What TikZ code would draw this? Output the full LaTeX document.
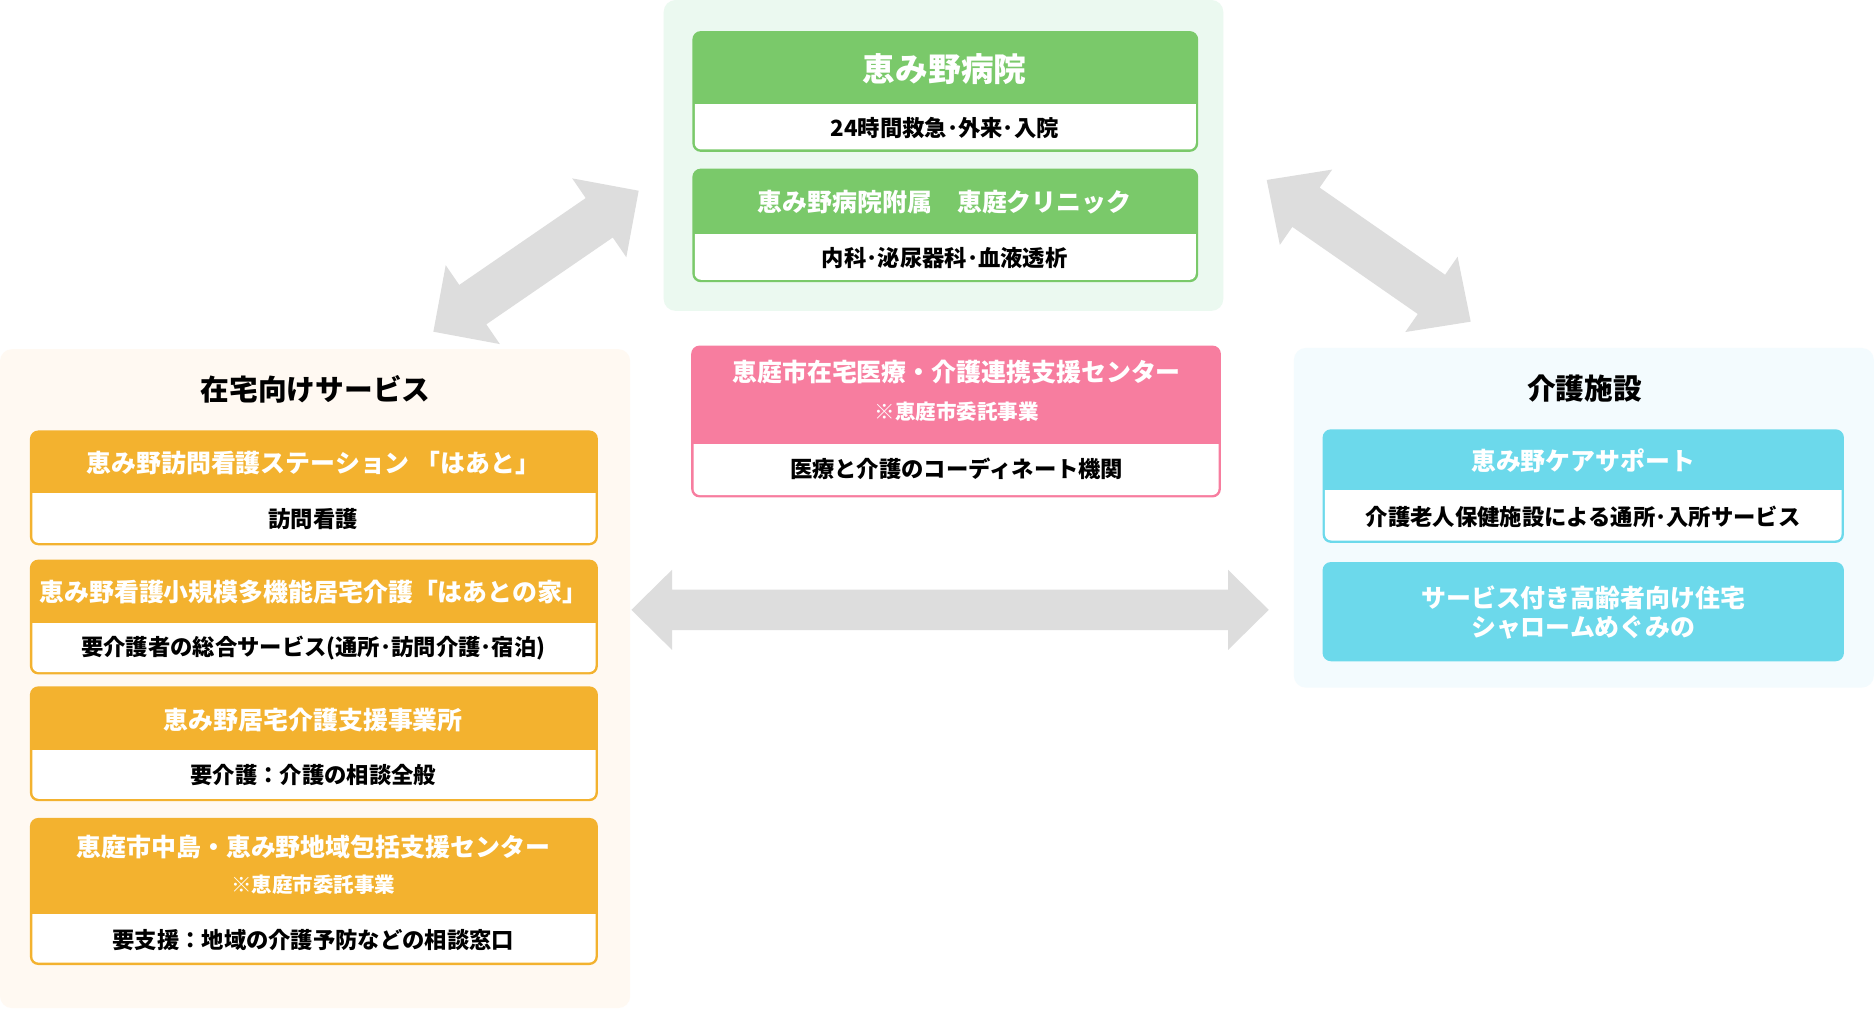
\documentclass[tikz,border=0pt]{standalone}
\usepackage{fontspec}
\setmainfont{Noto Sans CJK JP}
\usetikzlibrary{calc}
\definecolor{cgreen}{HTML}{7AC96A}
\definecolor{pgreen}{HTML}{EBF9F0}
\definecolor{corange}{HTML}{F3B22F}
\definecolor{porange}{HTML}{FFF9F2}
\definecolor{cpink}{HTML}{F77D9F}
\definecolor{ccyan}{HTML}{6CD9EB}
\definecolor{pcyan}{HTML}{F3FBFE}
\definecolor{agray}{HTML}{DDDDDD}
\newcommand\cardbox[6]{%
  \fill[#1, rounded corners=4.2pt] (#2,#3) rectangle (#4,#5);
  \begin{scope}
    \clip (#2,#6) rectangle (#4,#5);
    \fill[white, rounded corners=3.2pt] ($(#2,#6)+(2,-20)$) rectangle ($(#4,#5)+(-2,-2)$);
  \end{scope}}
\newcommand\fatarrow[5]{%
  \fill[agray] (#1)
   -- ($(#1)!#3!(#2)!#4!90:(#2)$)
   -- ($(#1)!#3!(#2)!#5!90:(#2)$)
   -- ($(#2)!#3!(#1)!#5!-90:(#1)$)
   -- ($(#2)!#3!(#1)!#4!-90:(#1)$)
   -- (#2)
   -- ($(#2)!#3!(#1)!#4!90:(#1)$)
   -- ($(#2)!#3!(#1)!#5!90:(#1)$)
   -- ($(#1)!#3!(#2)!#5!-90:(#2)$)
   -- ($(#1)!#3!(#2)!#4!-90:(#2)$) -- cycle;}
\begin{document}
\begin{tikzpicture}[x=0.6pt,y=-0.6pt,
  ttl/.style={text=white, inner sep=0pt, font=\fontsize{12.5}{14.4}\selectfont\bfseries},
  bigttl/.style={text=white, inner sep=0pt, font=\fontsize{16.4}{18}\selectfont\bfseries},
  subtxt/.style={text=black, inner sep=0pt, font=\fontsize{11.2}{13}\selectfont\bfseries},
  notetxt/.style={text=white, inner sep=0pt, font=\fontsize{10.3}{12}\selectfont\bfseries},
  ptitle/.style={text=black, inner sep=0pt, font=\fontsize{14.4}{16}\selectfont\bfseries}]
\useasboundingbox (0,0) rectangle (1568,844);
\fill[white] (0,0) rectangle (1568,844);

% panels
\fill[pgreen, rounded corners=6pt] (555,0) rectangle (1023,260);
\fill[porange, rounded corners=6pt] (0,292) rectangle (527,843);
\fill[pcyan, rounded corners=6pt] (1082,291) rectangle (1567,575);

% arrows
\coordinate (la) at (362.4,277.4);
\coordinate (lb) at (534.1,159.5);
\coordinate (ra) at (1059.3,150.5);
\coordinate (rb) at (1229.9,269);
\coordinate (ha) at (528,510);
\coordinate (hb) at (1061,510);
\fatarrow{la}{lb}{24pt}{24pt}{12pt}
\fatarrow{ra}{rb}{24pt}{23pt}{12pt}
\fatarrow{ha}{hb}{20.4pt}{20.1pt}{10.2pt}

% green boxes
\cardbox{cgreen}{579}{26}{1002}{127}{87}
\node[bigttl] (hosp) at (790,58) {恵み野病院};
\node[subtxt] (hospsub) at (790,107) {24時間救急･外来･入院};
\cardbox{cgreen}{579}{141}{1002}{236}{196}
\node[ttl] (clinic) at (790,169) {恵み野病院附属　恵庭クリニック};
\node[subtxt] (clinicsub) at (790,216) {内科･泌尿器科･血液透析};

% pink box
\cardbox{cpink}{578}{289}{1021}{416}{372}
\node[ttl] (center) at (800,311) {恵庭市在宅医療・介護連携支援センター};
\node[notetxt] (centernote) at (800,344) {※恵庭市委託事業};
\node[subtxt] (centersub) at (800,392) {医療と介護のコーディネート機関};

% left panel
\node[ptitle] (home) at (264,326) {在宅向けサービス};
\cardbox{corange}{25}{360}{500}{456}{413}
\node[ttl] (sa) at (262,387) {恵み野訪問看護ステーション 「はあと」};
\node[subtxt] (sasub) at (262,434) {訪問看護};
\cardbox{corange}{25}{468}{500}{564}{521}
\node[ttl] (sb) at (262,495) {恵み野看護小規模多機能居宅介護「はあとの家」};
\node[subtxt] (sbsub) at (262,542) {要介護者の総合サービス(通所･訪問介護･宿泊)};
\cardbox{corange}{25}{574}{500}{670}{628}
\node[ttl] (sc) at (262,602) {恵み野居宅介護支援事業所};
\node[subtxt] (scsub) at (262,648) {要介護：介護の相談全般};
\cardbox{corange}{25}{684}{500}{807}{765}
\node[ttl] (sd) at (262,708) {恵庭市中島・恵み野地域包括支援センター};
\node[notetxt] (sdnote) at (262,740) {※恵庭市委託事業};
\node[subtxt] (sdsub) at (262,786) {要支援：地域の介護予防などの相談窓口};

% right panel
\node[ptitle] (care) at (1325,325) {介護施設};
\cardbox{ccyan}{1106}{359}{1542}{454}{410}
\node[ttl] (se) at (1324,385) {恵み野ケアサポート};
\node[subtxt] (sesub) at (1324,432) {介護老人保健施設による通所･入所サービス};
\fill[ccyan, rounded corners=4.2pt] (1106,470) rectangle (1542,553);
\node[ttl, align=center] (sf) at (1324,512) {サービス付き高齢者向け住宅\\シャロームめぐみの};
\end{tikzpicture}
\end{document}
